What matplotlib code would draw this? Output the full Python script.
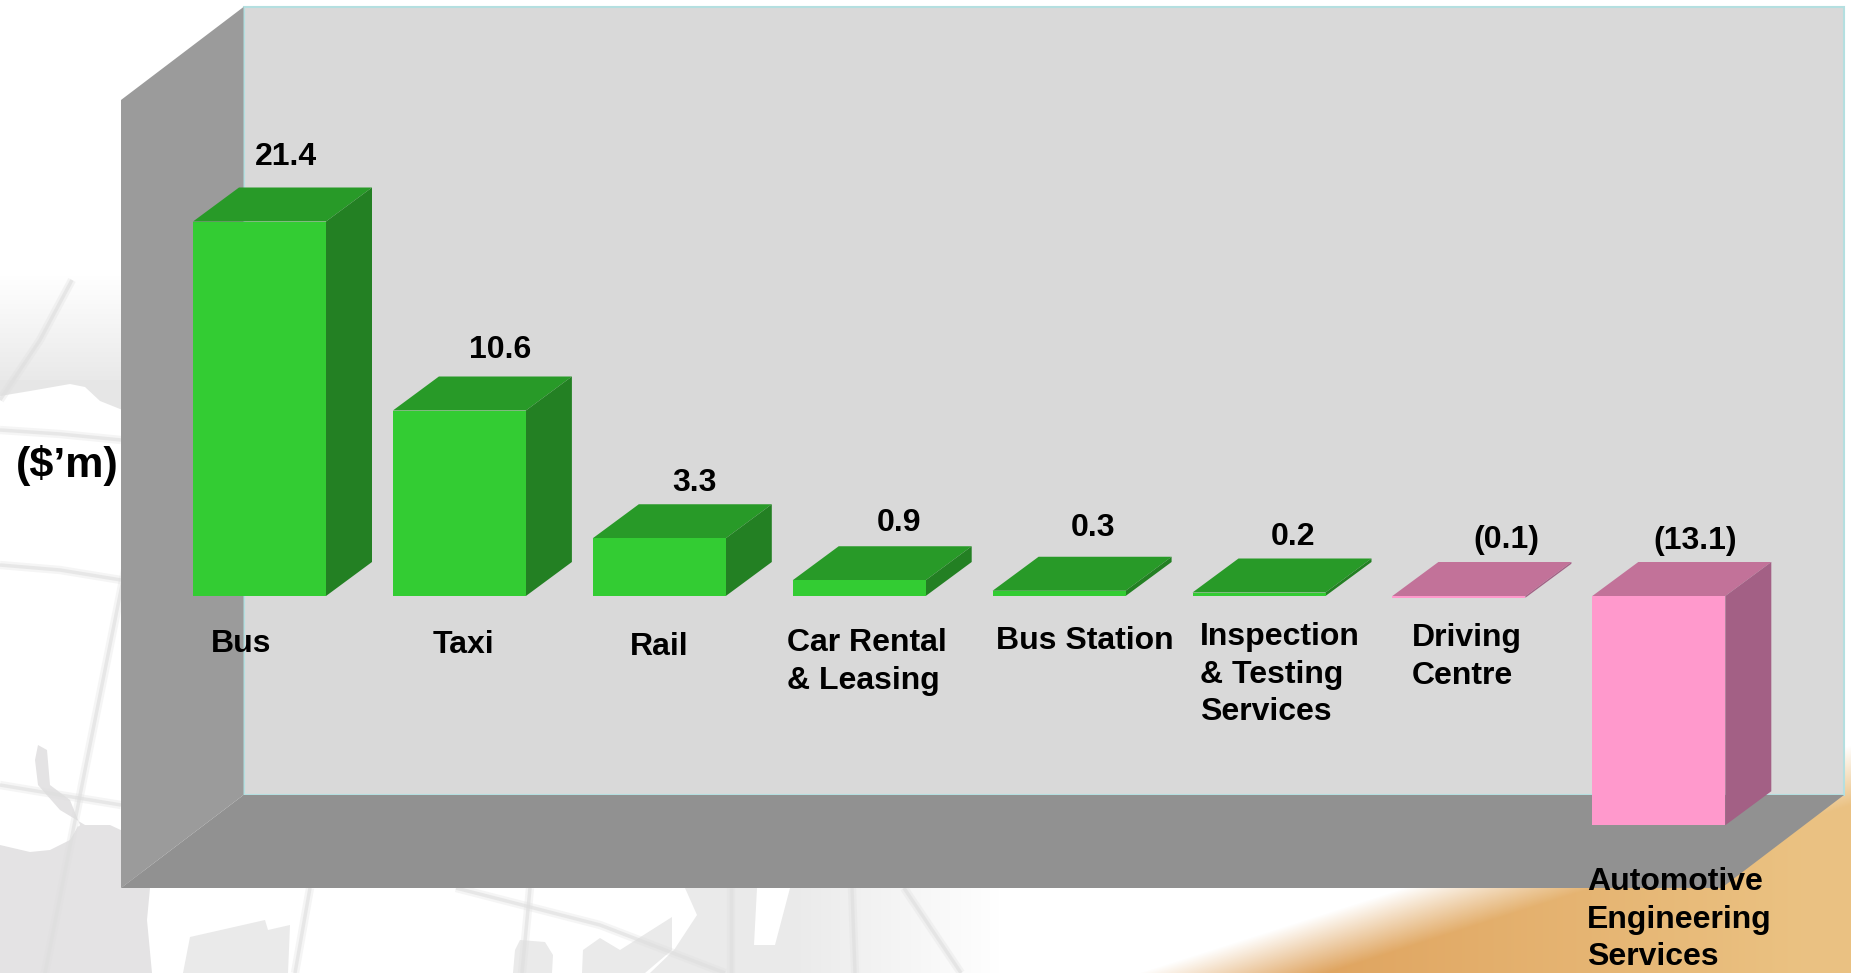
"""
Revenue by business, drawn as a fake 3D bar chart on a slide background
"""

import numpy as np
import matplotlib
matplotlib.use("Agg")
import matplotlib.pyplot as plt
from matplotlib.patches import Polygon

plt.rcParams['font.family'] = ['Liberation Sans', 'DejaVu Sans']

categories = ["Bus", "Taxi", "Rail", "Car Rental\n& Leasing", "Bus Station",
              "Inspection\n& Testing\nServices", "Driving\nCentre",
              "Automotive\nEngineering\nServices"]
values = [21.4, 10.6, 3.3, 0.9, 0.3, 0.2, -0.1, -13.1]
value_labels = ["21.4", "10.6", "3.3", "0.9", "0.3", "0.2", "(0.1)", "(13.1)"]
unit_label = "($\u2019m)"

# text anchors in pixels, left edge and top of text
value_xy = [(255, 142), (469, 335), (672, 468), (877, 508), (1071, 513), (1271, 522), (1473, 525), (1653, 526)]
cat_xy = [(211, 629), (433, 630), (630, 632), (787, 628), (996, 626), (1200, 622), (1412, 623), (1587, 867)]

W, H = 1851, 973
DPI = 100

# bar geometry in pixels
PITCH = 199.9
BAR0_CENTER = 259.5
BAR_W = 133.0
ZERO_Y = 596.0
PX_PER_UNIT = 17.5
DEPTH_X = 46.0
DEPTH_Y = 34.0

fig = plt.figure(figsize=(W / DPI, H / DPI), dpi=DPI, facecolor="white")

# pixel axes for the background and the box
bg = fig.add_axes([0, 0, 1, 1])
bg.set_xlim(0, W)
bg.set_ylim(H, 0)
bg.axis("off")

GLOBE = "#e4e3e4"
LINE = "#dedede"

# grey band at left with soft top
yy = np.linspace(0, 1, 120)[:, None]
bg.imshow(np.dstack([np.full((120, 1, 3), 0.90), yy]), extent=(0, 125, 400, 275), aspect="auto", zorder=1)
bg.add_patch(Polygon([(0, 396), (30, 392), (70, 385), (85, 388), (100, 402), (125, 412), (125, 380), (0, 380)],
                     fc="#e6e6e6", ec="none", zorder=1))
bg.add_patch(Polygon([(0, 396), (30, 391), (70, 384), (85, 387), (100, 401), (125, 411), (125, 425), (0, 425)],
                     fc="white", ec="none", zorder=1.5))

# lower left land
bg.add_patch(Polygon([(0, 845), (30, 852), (50, 850), (70, 840), (80, 825), (70, 800), (50, 785), (47, 750), (38, 745),
                      (35, 760), (38, 785), (60, 810), (85, 825), (110, 825), (125, 832), (150, 888), (147, 920), (152, 973), (0, 973)],
                     fc=GLOBE, ec="none", zorder=2))
bg.add_patch(Polygon([(0, 846), (30, 853), (50, 851), (70, 841), (78, 826), (90, 835), (110, 833), (125, 835), (125, 860), (0, 860)],
                     fc=GLOBE, ec="none", zorder=2))

# land pieces under the box
for pts in [[(190, 937), (265, 920), (268, 930), (290, 925), (288, 973), (183, 973)],
            [(520, 940), (545, 942), (553, 955), (552, 973), (513, 973), (515, 950)],
            [(583, 950), (600, 938), (620, 950), (672, 917), (672, 950), (645, 973), (582, 973)],
            [(685, 888), (697, 915), (674, 950), (650, 973), (1000, 973), (1000, 888), (790, 888), (775, 945), (754, 945), (757, 888)]]:
    bg.add_patch(Polygon(pts, fc="#eaeaea", ec="none", zorder=2))
fade = np.linspace(0, 1, 200)[None, :]
bg.imshow(np.dstack([np.ones((1, 200, 3)), fade]), extent=(790, 1000, 973, 880), aspect="auto", zorder=2.2)

# globe lines
for xs, ys in [([0, 60, 121], [430, 434, 440]), ([0, 60, 121], [565, 570, 580]), ([0, 60, 121], [785, 795, 805]),
               ([125, 85, 45], [570, 770, 973]), ([0, 40, 72], [400, 340, 280]),
               ([310, 295], [888, 973]), ([530, 522], [888, 973]), ([456, 600, 725], [888, 925, 973]),
               ([731, 731], [888, 973]), ([852, 855], [888, 973]), ([904, 961], [888, 973])]:
    bg.plot(xs, ys, color=LINE, lw=6, alpha=0.3, zorder=2.5, solid_capstyle="butt")
    bg.plot(xs, ys, color=LINE, lw=2.5, alpha=0.6, zorder=2.5, solid_capstyle="butt")

# orange corner, soft along a diagonal
gx, gy = np.meshgrid(np.arange(W), np.arange(H))
dist = (gx - 1230) * 0.32 + (gy - 973)
alpha = np.clip((dist + 30) / 60.0, 0, 1)
mix = np.clip((gx - 1300) / 500.0, 0, 1)[..., None]
rgb = (1 - mix) * np.array([0.875, 0.64, 0.37]) + mix * np.array([0.92, 0.76, 0.51])
bg.imshow(np.dstack([rgb, alpha]), extent=(0, W, H, 0), aspect="auto", zorder=3)

# the box: back wall, left wall, floor
BX0, BX1, BY0, BY1 = 243.5, 1844.0, 7.0, 795.0
FX0, FX1, FY0, FY1 = 121.0, 1721.5, 100.0, 888.0
bg.add_patch(Polygon([(BX0, BY0), (BX1, BY0), (BX1, BY1), (BX0, BY1)], fc="#d9d9d9", ec="#b4dfe0", lw=1.5, zorder=4))
bg.add_patch(Polygon([(FX0, FY0), (BX0, BY0), (BX0, BY1), (FX0, FY1)], fc="#9b9b9b", ec="none", zorder=4.5))
bg.add_patch(Polygon([(FX0, FY1), (BX0, BY1), (BX1, BY1), (FX1, FY1)], fc="#919191", ec="none", zorder=4.6))
bg.set_xlim(0, W)
bg.set_ylim(H, 0)

# chart axes on top, same area, scaled so one unit is one bar slot / $1m
ax = fig.add_axes([0, 0, 1, 1], facecolor="none")
ax.set_xlim(-BAR0_CENTER / PITCH, (W - BAR0_CENTER) / PITCH)
ax.set_ylim((ZERO_Y - H) / PX_PER_UNIT, ZERO_Y / PX_PER_UNIT)
ax.axis("off")

x = np.arange(len(values))
colors = ["#33cc33" if v >= 0 else "#ff99cc" for v in values]
top_colors = ["#289a28" if v >= 0 else "#c27299" for v in values]
side_colors = ["#238023" if v >= 0 else "#a36085" for v in values]

bw = BAR_W / PITCH
dx = DEPTH_X / PITCH
dy = DEPTH_Y / PX_PER_UNIT

ax.bar(x, values, width=bw, color=colors, linewidth=0, zorder=3)

for i, v in enumerate(values):
    left = x[i] - bw / 2
    right = x[i] + bw / 2
    hi = max(v, 0)
    lo = min(v, 0)
    ax.add_patch(Polygon([(left, hi), (right, hi), (right + dx, hi + dy), (left + dx, hi + dy)],
                         fc=top_colors[i], ec="none", zorder=2))
    ax.add_patch(Polygon([(right, hi), (right + dx, hi + dy), (right + dx, lo + dy), (right, lo)],
                         fc=side_colors[i], ec="none", zorder=2))

for lab, (px, py) in zip(value_labels, value_xy):
    ax.text(px, py, lab, transform=bg.transData, fontsize=23, fontweight="bold", color="black",
            ha="left", va="top", zorder=5)

for lab, (px, py) in zip(categories, cat_xy):
    ax.text(px, py, lab, transform=bg.transData, fontsize=23, fontweight="bold", color="black",
            ha="left", va="top", linespacing=1.33, zorder=5)

ax.text(16, 445, unit_label, transform=bg.transData, fontsize=31, fontweight="bold", color="black",
        ha="left", va="top", zorder=5)

fig.savefig("out.png", dpi=DPI)
